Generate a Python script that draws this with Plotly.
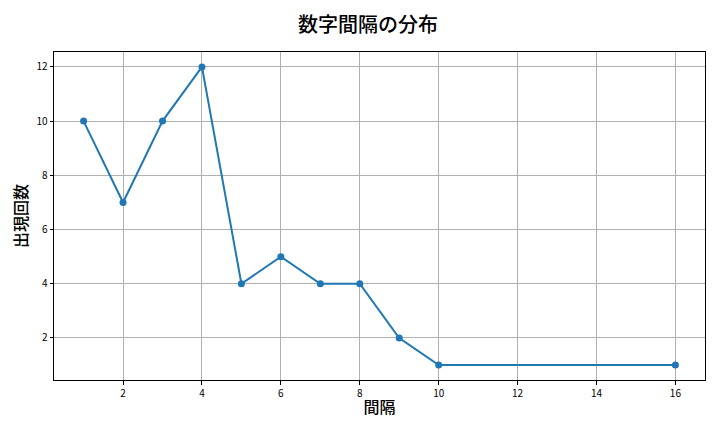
import plotly.graph_objects as go

# 間隔 (gap) vs 出現回数 (count)
gaps = [1, 2, 3, 4, 5, 6, 7, 8, 9, 10, 16]
counts = [10, 7, 10, 12, 4, 5, 4, 4, 2, 1, 1]
x_ticks = [2, 4, 6, 8, 10, 12, 14, 16]
y_ticks = [2, 4, 6, 8, 10, 12]

font_jp = "Noto Sans CJK JP"

fig = go.Figure()
fig.add_trace(go.Scatter(
    x=gaps, y=counts, mode="lines+markers",
    line=dict(color="#1f77b4", width=2),
    marker=dict(color="#1f77b4", size=7),
    showlegend=False,
))

axis_style = dict(
    showgrid=True, gridcolor="#b0b0b0", gridwidth=0.8,
    showline=True, linecolor="black", linewidth=1, mirror=True,
    ticks="outside", ticklen=3.5, tickcolor="black",
    tickfont=dict(family=font_jp, size=10, color="black"),
    zeroline=False, automargin=False,
)

# page body adds an 8px offset, margins compensate for it
fig.update_layout(
    width=720, height=432,
    paper_bgcolor="white", plot_bgcolor="white",
    margin=dict(l=46, r=23, t=44, b=60, autoexpand=False),
    title=dict(text="数字間隔の分布", x=0.5, xanchor="center", y=0.961, yanchor="middle",
               font=dict(family=font_jp, size=20, color="black", weight=500)),
    xaxis=dict(axis_style, range=[0.25, 16.75], tickvals=x_ticks,
               title=dict(text="間隔", font=dict(family=font_jp, size=16, color="black", weight=500), standoff=3)),
    yaxis=dict(axis_style, range=[0.45, 12.55], tickvals=y_ticks,
               title=dict(text="出現回数", font=dict(family=font_jp, size=16, color="black", weight=500), standoff=4)),
)

fig.write_html("out.html")
